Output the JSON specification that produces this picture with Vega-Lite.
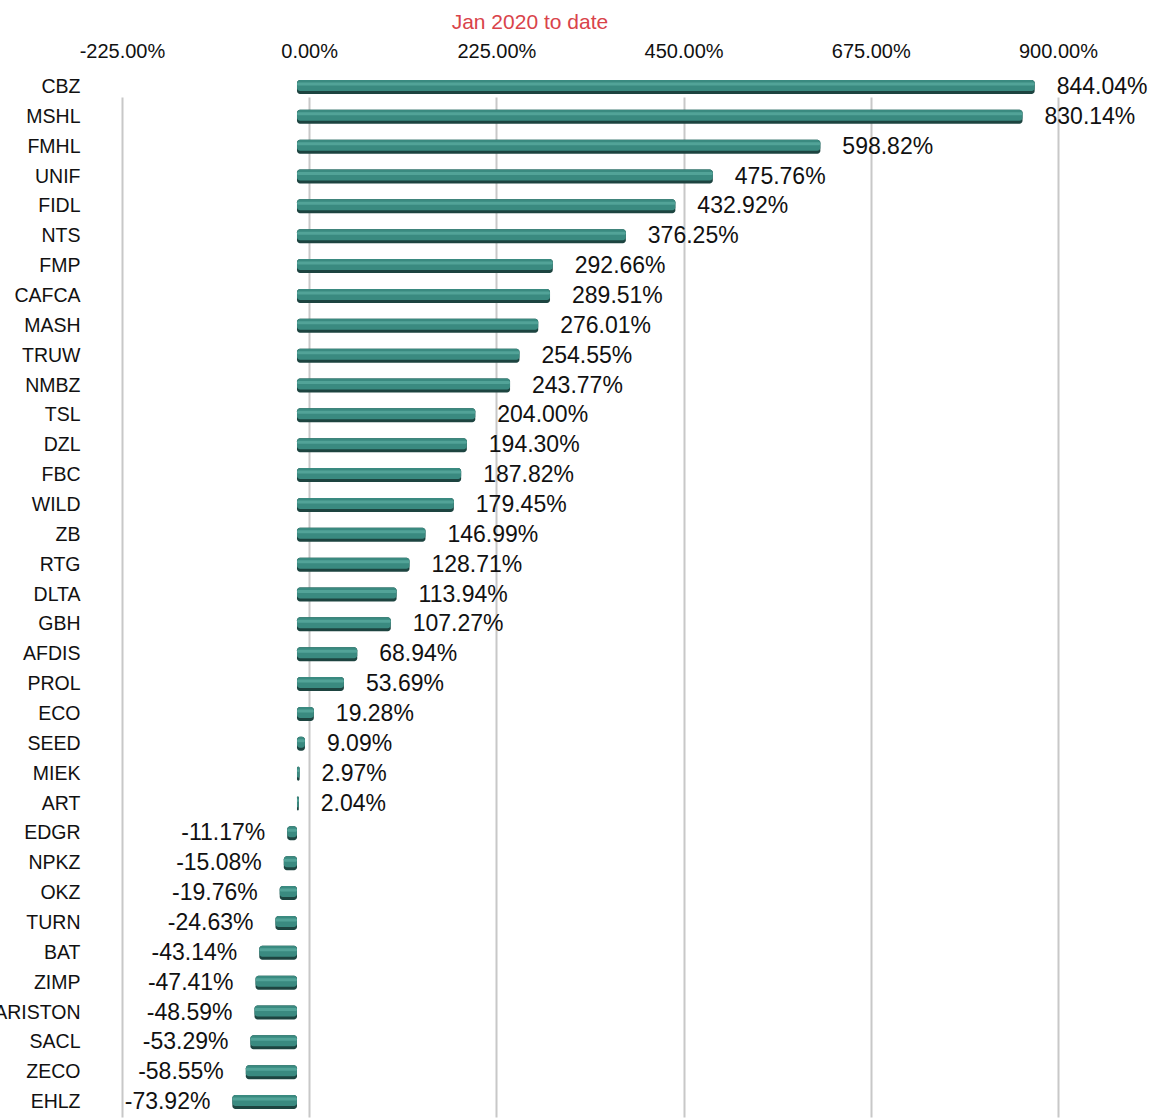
{
  "$schema": "https://vega.github.io/schema/vega-lite/v6.json",
  "width": 1052,
  "height": 1045,
  "autosize": {"type": "none"},
  "padding": {"left": 100, "top": 72, "right": 0, "bottom": 3},
  "background": "white",
  "config": {
    "view": {"stroke": null},
    "font": "Liberation Sans",
    "locale": {"number": {"decimal": ".", "thousands": ",", "grouping": [3], "currency": ["$", ""], "minus": "-"}}
  },
  "title": {
    "text": "Jan 2020 to date",
    "color": "#d9434a",
    "fontSize": 21,
    "font": "Liberation Sans",
    "fontWeight": "normal",
    "anchor": "start",
    "dx": 458,
    "offset": 8
  },
  "data": {
    "values": [
      {"ticker": "CBZ", "pct": 8.4404},
      {"ticker": "MSHL", "pct": 8.3014},
      {"ticker": "FMHL", "pct": 5.9882},
      {"ticker": "UNIF", "pct": 4.7576},
      {"ticker": "FIDL", "pct": 4.3292},
      {"ticker": "NTS", "pct": 3.7625},
      {"ticker": "FMP", "pct": 2.9266},
      {"ticker": "CAFCA", "pct": 2.8951},
      {"ticker": "MASH", "pct": 2.7601},
      {"ticker": "TRUW", "pct": 2.5455},
      {"ticker": "NMBZ", "pct": 2.4377},
      {"ticker": "TSL", "pct": 2.0400},
      {"ticker": "DZL", "pct": 1.9430},
      {"ticker": "FBC", "pct": 1.8782},
      {"ticker": "WILD", "pct": 1.7945},
      {"ticker": "ZB", "pct": 1.4699},
      {"ticker": "RTG", "pct": 1.2871},
      {"ticker": "DLTA", "pct": 1.1394},
      {"ticker": "GBH", "pct": 1.0727},
      {"ticker": "AFDIS", "pct": 0.6894},
      {"ticker": "PROL", "pct": 0.5369},
      {"ticker": "ECO", "pct": 0.1928},
      {"ticker": "SEED", "pct": 0.0909},
      {"ticker": "MIEK", "pct": 0.0297},
      {"ticker": "ART", "pct": 0.0204},
      {"ticker": "EDGR", "pct": -0.1117},
      {"ticker": "NPKZ", "pct": -0.1508},
      {"ticker": "OKZ", "pct": -0.1976},
      {"ticker": "TURN", "pct": -0.2463},
      {"ticker": "BAT", "pct": -0.4314},
      {"ticker": "ZIMP", "pct": -0.4741},
      {"ticker": "ARISTON", "pct": -0.4859},
      {"ticker": "SACL", "pct": -0.5329},
      {"ticker": "ZECO", "pct": -0.5855},
      {"ticker": "EHLZ", "pct": -0.7392}
    ]
  },
  "encoding": {
    "y": {
      "field": "ticker",
      "type": "nominal",
      "sort": null,
      "scale": {"paddingOuter": 0, "paddingInner": 0},
      "axis": {
        "title": null,
        "domain": false,
        "ticks": false,
        "grid": false,
        "labelFont": "Liberation Sans",
        "labelFontSize": 19.5,
        "labelColor": "#111111",
        "labelPadding": 20
      }
    }
  },
  "layer": [
    {
      "mark": {"type": "point", "opacity": 0},
      "encoding": {
        "x": {
          "field": "pct",
          "type": "quantitative",
          "scale": {"domain": [-2.514, 10.13], "nice": false, "zero": false},
          "axis": {
            "orient": "top",
            "title": null,
            "values": [-2.25, 0, 2.25, 4.5, 6.75, 9],
            "format": ".2%",
            "domain": false,
            "ticks": false,
            "grid": true,
            "gridColor": "#c8c8c8",
            "gridWidth": 2,
            "gridOpacity": 1,
            "gridDash": [0, 25, 1100],
            "labelFont": "Liberation Sans",
            "labelFontSize": 20,
            "labelColor": "#111111",
            "labelPadding": 11
          }
        }
      }
    },
    {
      "encoding": {
        "x": {
          "field": "pct",
          "type": "quantitative",
          "scale": {"domain": [-2.254, 9.783], "nice": false, "zero": false},
          "axis": null
        },
        "x2": {"datum": 0}
      },
      "layer": [
        {"mark": {"type": "bar", "size": 14, "color": "#1d4440", "cornerRadius": 3}},
        {"mark": {"type": "bar", "size": 11, "yOffset": -1.5, "color": "#3a8a80", "cornerRadius": 3}},
        {"mark": {"type": "bar", "size": 3, "yOffset": -3, "color": "#52a398", "cornerRadius": 1.5}},
        {
          "transform": [{"filter": "datum.pct >= 0"}],
          "mark": {"type": "text", "align": "left", "baseline": "middle", "dx": 22, "fontSize": 23, "font": "Liberation Sans", "color": "#111111"},
          "encoding": {
            "x2": null,
            "text": {"field": "pct", "type": "quantitative", "format": ".2%"}
          }
        },
        {
          "transform": [{"filter": "datum.pct < 0"}],
          "mark": {"type": "text", "align": "right", "baseline": "middle", "dx": -22, "fontSize": 23, "font": "Liberation Sans", "color": "#111111"},
          "encoding": {
            "x2": null,
            "text": {"field": "pct", "type": "quantitative", "format": ".2%"}
          }
        }
      ]
    }
  ],
  "resolve": {"scale": {"x": "independent"}}
}
